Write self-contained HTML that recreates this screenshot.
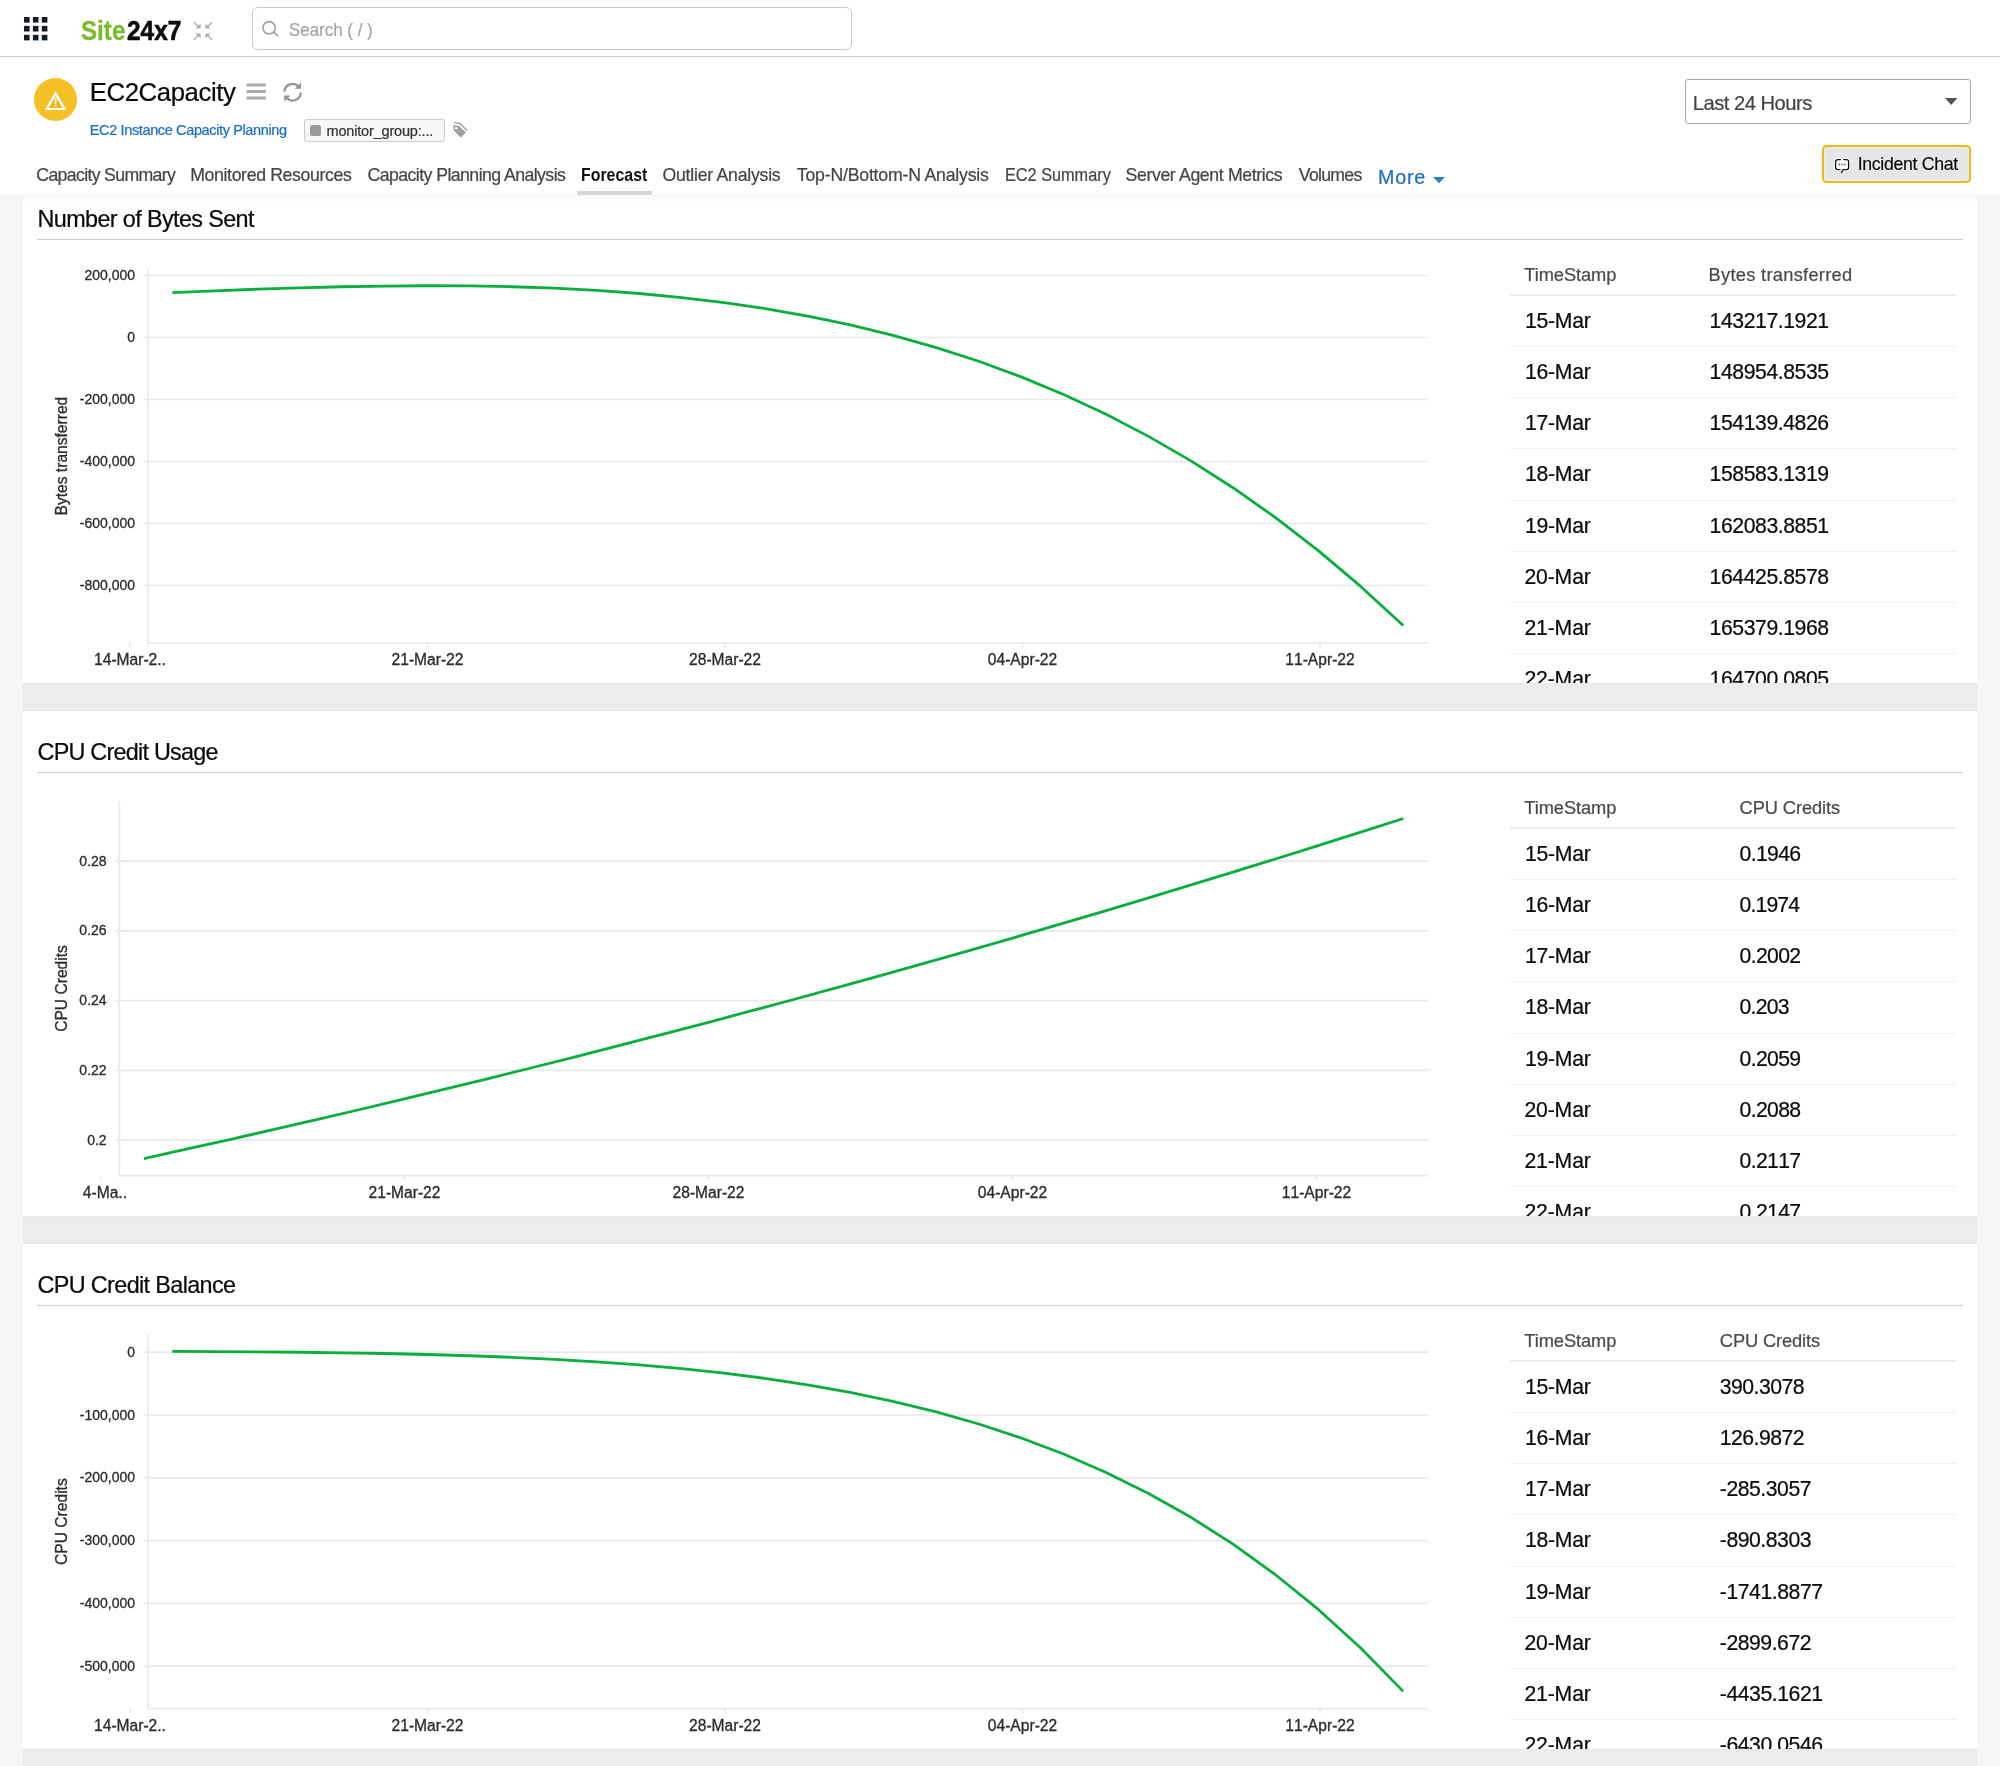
<!DOCTYPE html>
<html lang="en"><head><meta charset="utf-8"><title>EC2Capacity - Forecast</title>
<style>
html,body{margin:0;padding:0}
html{width:2000px;height:1766px;overflow:hidden}
#wrap{position:absolute;left:0;top:0;width:2000px;height:1766px;overflow:hidden;will-change:transform}
body{width:2000px;height:1766px;position:relative;overflow:hidden;background:#f6f6f6;font-family:"Liberation Sans",sans-serif}
.abs,.t,.chart,svg.i{position:absolute}
.chart text{font-kerning:none}
.t{white-space:nowrap;transform-origin:0 50%;display:block}
#hdr{left:0;top:0;width:2000px;height:194px;background:#fff}
#hline{left:0;top:56px;width:2000px;height:1px;background:#cdcdcd}
#card{left:23px;top:194px;width:1954px;height:1572px;background:#fff}
#cardshade{left:23px;top:194px;width:1954px;height:10px;background:linear-gradient(rgba(0,0,0,.028),rgba(0,0,0,0))}
.sep{left:23px;width:1954px;height:28px;background:#ececec;z-index:5;box-shadow:inset 0 0 0 1px #e9e9e9}
.ul{left:37px;width:1926px;height:1.4px;background:#cfcfcf}
.th{left:1510px;width:446px;height:2px;background:#ececec}
.tr{left:1510px;width:446px;height:1px;background:#f0f0f0}
#search{left:251.5px;top:7px;width:598px;height:41px;border:1.3px solid #c9c9c9;border-radius:6px;background:#fff;box-sizing:content-box}
#sel{left:1685px;top:79px;width:284px;height:43px;border:1.2px solid #a9a9a9;border-radius:3px;background:#fff}
#chat{left:1822px;top:145px;width:145.4px;height:33.6px;border:2px solid #f4b60e;border-radius:4.5px;background:#e6e6e6;box-shadow:inset 0 0 0 1.5px #e3ebf9}
#tagbox{left:304px;top:119px;width:139px;height:20.5px;border:1px solid #cccccc;border-radius:3px;background:#f6f6f6}
#tagsq{left:310px;top:125px;width:11px;height:11px;border-radius:2.5px;background:#999}
#circ{left:34.2px;top:78.4px;width:42.8px;height:42.8px;border-radius:50%;background:#f5c026}
#tabbar{left:577px;top:191px;width:75px;height:4px;background:#d6d6d6}
</style></head>
<body>
<div id="wrap">
<div class="abs" id="hdr"></div><div class="abs" id="card"></div><div class="abs" id="cardshade"></div><div class="abs" id="hline"></div>
<div class="abs" id="search"></div><div class="abs" id="sel"></div><div class="abs" id="chat"></div>
<div class="abs" id="tagbox"></div><div class="abs" id="tagsq"></div><div class="abs" id="circ"></div><div class="abs" id="tabbar"></div>
<div class="abs ul" style="top:238.7px"></div>
<div class="abs th" style="top:294.0px"></div>
<div class="abs tr" style="top:346px"></div>
<div class="abs tr" style="top:397px"></div>
<div class="abs tr" style="top:448px"></div>
<div class="abs tr" style="top:500px"></div>
<div class="abs tr" style="top:551px"></div>
<div class="abs tr" style="top:602px"></div>
<div class="abs tr" style="top:653px"></div>
<div class="abs tr" style="top:704px"></div>
<div class="abs sep" style="top:683px"></div>
<div class="abs ul" style="top:771.7px"></div>
<div class="abs th" style="top:827.0px"></div>
<div class="abs tr" style="top:879px"></div>
<div class="abs tr" style="top:930px"></div>
<div class="abs tr" style="top:981px"></div>
<div class="abs tr" style="top:1033px"></div>
<div class="abs tr" style="top:1084px"></div>
<div class="abs tr" style="top:1135px"></div>
<div class="abs tr" style="top:1186px"></div>
<div class="abs tr" style="top:1237px"></div>
<div class="abs sep" style="top:1216px"></div>
<div class="abs ul" style="top:1304.7px"></div>
<div class="abs th" style="top:1360.0px"></div>
<div class="abs tr" style="top:1412px"></div>
<div class="abs tr" style="top:1463px"></div>
<div class="abs tr" style="top:1514px"></div>
<div class="abs tr" style="top:1566px"></div>
<div class="abs tr" style="top:1617px"></div>
<div class="abs tr" style="top:1668px"></div>
<div class="abs tr" style="top:1719px"></div>
<div class="abs tr" style="top:1770px"></div>
<div class="abs sep" style="top:1749px"></div>
<svg class="i" style="left:24px;top:17.2px" width="24" height="24" fill="#131c26"><rect x="0.0" y="0.0" width="5.6" height="5.6"/><rect x="8.9" y="0.0" width="5.6" height="5.6"/><rect x="17.8" y="0.0" width="5.6" height="5.6"/><rect x="0.0" y="8.9" width="5.6" height="5.6"/><rect x="8.9" y="8.9" width="5.6" height="5.6"/><rect x="17.8" y="8.9" width="5.6" height="5.6"/><rect x="0.0" y="17.8" width="5.6" height="5.6"/><rect x="8.9" y="17.8" width="5.6" height="5.6"/><rect x="17.8" y="17.8" width="5.6" height="5.6"/></svg>
<svg class="i" style="left:193px;top:21px" width="20" height="20" viewBox="0 0 20 20" fill="#b0b0b0" stroke="#b0b0b0" stroke-width="1.5">
<path d="M1 1.2L5.5 5.7M19 1.2L14.5 5.7M1 18.8L5.5 14.3M19 18.8L14.5 14.3" fill="none"/>
<path d="M7.6 2.4V7.6H2.4ZM12.4 2.4V7.6H17.6ZM7.6 17.6V12.4H2.4ZM12.4 17.6V12.4H17.6Z" stroke="none"/></svg>
<svg class="i" style="left:260px;top:19px" width="20" height="20" viewBox="0 0 20 20" fill="none" stroke="#a2a2a2" stroke-width="1.7" stroke-linecap="round">
<circle cx="9.1" cy="8.8" r="6.15"/><path d="M13.7 13.4L17.6 16.6"/></svg>
<svg class="i" style="left:44px;top:89.4px" width="24" height="24" viewBox="0 0 24 24">
<path d="M11.6 6.4L18.6 19H4.6Z" fill="#f4b50d"/>
<path d="M11.6 2.1L22.3 21.1H0.9Z M11.55 6.9L4.7 18.9H18.3Z" fill="#fff" fill-rule="evenodd"/>
<path d="M10.6 9.3H12.6L12.3 15.3H10.9Z M10.75 15.9H12.45V17.5H10.75Z" fill="#fff"/></svg>
<svg class="i" style="left:246px;top:83.1px" width="21" height="18" fill="#ababab"><rect x=".5" y=".4" width="19.4" height="3" rx=".6"/><rect x=".5" y="6.9" width="19.4" height="3.1" rx=".6"/><rect x=".5" y="13.4" width="19.4" height="3.1" rx=".6"/></svg>
<svg class="i" style="left:282px;top:81px" width="22" height="22" viewBox="0 0 22 22" fill="none" stroke="#949494" stroke-width="2.2">
<path d="M2.4 10.7A8.2 8.2 0 0 1 16.9 5.9M18.8 11.5A8.2 8.2 0 0 1 4.3 16.5"/>
<path d="M19 1.6V7.8H12.8Z M2.2 20.7V14.6H8.4Z" fill="#949494" stroke="none"/></svg>
<svg class="i" style="left:452px;top:121px" width="16" height="18" viewBox="0 0 16 18">
<path d="M1.1 3.9L7 4.9 13.9 11.6 8.7 16.5 2 9.7Z M4.3 5.9a1.35 1.35 0 1 0 .01 0Z" fill="#a0a0a0" fill-rule="evenodd"/>
<path d="M2.4 1.6L8.1 2.6 14.7 9.2" fill="none" stroke="#999999" stroke-width="1.3" stroke-linecap="round"/></svg>
<svg class="i" style="left:1944.5px;top:98px" width="13" height="8"><path d="M0 0H12.4L6.2 7Z" fill="#555"/></svg>
<svg class="i" style="left:1432.5px;top:176.8px" width="13" height="7"><path d="M0 0H12L6 6.2Z" fill="#2f7ecf"/></svg>
<svg class="i" style="left:1830px;top:155px" width="24" height="22" viewBox="0 0 24 22" fill="none" stroke-linecap="round" stroke-linejoin="round">
<rect x="5.6" y="4.6" width="13" height="10" rx="2" fill="#fff" stroke="none"/>
<g stroke="#fff" stroke-width="3.4" opacity=".9"><path d="M10.4 4.6H7.6A2 2 0 0 0 5.6 6.6V12.6A2 2 0 0 0 7.6 14.6H10"/><path d="M13.6 4.6H16.6A2 2 0 0 1 18.6 6.6V12.6A2 2 0 0 1 16.6 14.6H13.2L11.4 17.6"/></g>
<g stroke="#111" stroke-width="1.3"><path d="M10.4 4.6H7.6A2 2 0 0 0 5.6 6.6V12.6A2 2 0 0 0 7.6 14.6H10"/><path d="M13.6 4.6H16.6A2 2 0 0 1 18.6 6.6V12.6A2 2 0 0 1 16.6 14.6H13.2L11.4 17.6"/></g>
<path d="M8.6 9.6h1.2M11.4 9.6h1.2M14.3 9.6h1.2" stroke="#333" stroke-width="1.5" stroke-linecap="butt"/></svg>

<svg class="chart" style="top:0px" width="1500" height="700" viewBox="0 0 1500 700">
<g stroke="#e9e9e9" stroke-width="1.7" fill="none">
<path d="M143.3 275.50H1428.5"/>
<path d="M143.3 337.50H1428.5"/>
<path d="M143.3 399.50H1428.5"/>
<path d="M143.3 461.50H1428.5"/>
<path d="M143.3 523.50H1428.5"/>
<path d="M143.3 585.50H1428.5"/>
<path d="M148.0 269.0V643.1H1428.5"/>
<path d="M130.0 643.1v4.5"/>
<path d="M427.5 643.1v4.5"/>
<path d="M725.0 643.1v4.5"/>
<path d="M1022.5 643.1v4.5"/>
<path d="M1320.0 643.1v4.5"/>
</g>
<g fill="#2b2b2b" stroke="#2b2b2b" stroke-width="0.3" font-size="14" text-anchor="end">
<text x="135" y="280.00">200,000</text>
<text x="135" y="342.00">0</text>
<text x="135" y="404.00">-200,000</text>
<text x="135" y="466.00">-400,000</text>
<text x="135" y="528.00">-600,000</text>
<text x="135" y="590.00">-800,000</text>
</g>
<g fill="#2b2b2b" stroke="#2b2b2b" stroke-width="0.3" font-size="15.6" text-anchor="middle">
<text x="130.0" y="665.0">14-Mar-2..</text>
<text x="427.5" y="665.0">21-Mar-22</text>
<text x="725.0" y="665.0">28-Mar-22</text>
<text x="1022.5" y="665.0">04-Apr-22</text>
<text x="1320.0" y="665.0">11-Apr-22</text>
<text transform="translate(67.3 456.1) rotate(-90)">Bytes transferred</text>
</g>
<polyline points="172.4,292.60 214.8,290.82 257.3,289.22 299.7,287.84 342.2,286.75 384.6,286.03 427.0,285.73 469.5,285.94 511.9,286.74 554.4,288.21 596.8,290.43 639.2,293.51 681.7,297.53 724.1,302.60 766.6,308.83 809.0,316.33 851.4,325.20 893.9,335.57 936.3,347.56 978.8,361.29 1021.2,376.91 1063.6,394.53 1106.1,414.30 1148.5,436.37 1191.0,460.88 1233.4,487.98 1275.8,517.83 1318.3,550.58 1360.7,586.41 1403.2,625.47" fill="none" stroke="#0aae3e" stroke-width="2.8" stroke-linejoin="round"/>
</svg>
<svg class="chart" style="top:533px" width="1500" height="700" viewBox="0 0 1500 700">
<g stroke="#e9e9e9" stroke-width="1.7" fill="none">
<path d="M114.7 328.20H1428.5"/>
<path d="M114.7 397.95H1428.5"/>
<path d="M114.7 467.70H1428.5"/>
<path d="M114.7 537.45H1428.5"/>
<path d="M114.7 607.20H1428.5"/>
<path d="M119.4 268.3V642.7H1428.5"/>
<path d="M100.5 642.7v4.5"/>
<path d="M404.5 642.7v4.5"/>
<path d="M708.5 642.7v4.5"/>
<path d="M1012.5 642.7v4.5"/>
<path d="M1316.5 642.7v4.5"/>
</g>
<g fill="#2b2b2b" stroke="#2b2b2b" stroke-width="0.3" font-size="14" text-anchor="end">
<text x="106.6" y="332.70">0.28</text>
<text x="106.6" y="402.45">0.26</text>
<text x="106.6" y="472.20">0.24</text>
<text x="106.6" y="541.95">0.22</text>
<text x="106.6" y="611.70">0.2</text>
</g>
<g fill="#2b2b2b" stroke="#2b2b2b" stroke-width="0.3" font-size="15.6" text-anchor="middle">
<text x="104.9" y="664.6">4-Ma..</text>
<text x="404.5" y="664.6">21-Mar-22</text>
<text x="708.5" y="664.6">28-Mar-22</text>
<text x="1012.5" y="664.6">04-Apr-22</text>
<text x="1316.5" y="664.6">11-Apr-22</text>
<text transform="translate(67.3 455.5) rotate(-90)">CPU Credits</text>
</g>
<polyline points="143.9,625.53 187.4,615.99 230.8,606.28 274.2,596.42 317.6,586.41 361.1,576.24 404.5,565.91 447.9,555.43 491.4,544.80 534.8,534.01 578.2,523.06 621.6,511.95 665.1,500.70 708.5,489.28 751.9,477.71 795.4,465.99 838.8,454.11 882.2,442.07 925.6,429.88 969.1,417.53 1012.5,405.03 1055.9,392.37 1099.4,379.55 1142.8,366.58 1186.2,353.46 1229.6,340.18 1273.1,326.74 1316.5,313.15 1359.9,299.40 1403.4,285.50" fill="none" stroke="#0aae3e" stroke-width="2.8" stroke-linejoin="round"/>
</svg>
<svg class="chart" style="top:1066px" width="1500" height="700" viewBox="0 0 1500 700">
<g stroke="#e9e9e9" stroke-width="1.7" fill="none">
<path d="M143.3 286.20H1428.5"/>
<path d="M143.3 349.00H1428.5"/>
<path d="M143.3 411.80H1428.5"/>
<path d="M143.3 474.60H1428.5"/>
<path d="M143.3 537.40H1428.5"/>
<path d="M143.3 600.20H1428.5"/>
<path d="M148.0 268.6V642.6H1428.5"/>
<path d="M130.0 642.6v4.5"/>
<path d="M427.5 642.6v4.5"/>
<path d="M725.0 642.6v4.5"/>
<path d="M1022.5 642.6v4.5"/>
<path d="M1320.0 642.6v4.5"/>
</g>
<g fill="#2b2b2b" stroke="#2b2b2b" stroke-width="0.3" font-size="14" text-anchor="end">
<text x="135" y="290.70">0</text>
<text x="135" y="353.50">-100,000</text>
<text x="135" y="416.30">-200,000</text>
<text x="135" y="479.10">-300,000</text>
<text x="135" y="541.90">-400,000</text>
<text x="135" y="604.70">-500,000</text>
</g>
<g fill="#2b2b2b" stroke="#2b2b2b" stroke-width="0.3" font-size="15.6" text-anchor="middle">
<text x="130.0" y="664.5">14-Mar-2..</text>
<text x="427.5" y="664.5">21-Mar-22</text>
<text x="725.0" y="664.5">28-Mar-22</text>
<text x="1022.5" y="664.5">04-Apr-22</text>
<text x="1320.0" y="664.5">11-Apr-22</text>
<text transform="translate(67.3 455.6) rotate(-90)">CPU Credits</text>
</g>
<polyline points="172.4,285.45 214.8,285.62 257.3,285.88 299.7,286.26 342.2,286.79 384.6,287.52 427.0,288.49 469.5,289.74 511.9,291.34 554.4,293.35 596.8,295.85 639.2,298.93 681.7,302.68 724.1,307.19 766.6,312.60 809.0,319.03 851.4,326.62 893.9,335.53 936.3,345.94 978.8,358.01 1021.2,371.97 1063.6,388.03 1106.1,406.44 1148.5,427.44 1191.0,451.33 1233.4,478.41 1275.8,508.99 1318.3,543.43 1360.7,582.09 1403.2,625.39" fill="none" stroke="#0aae3e" stroke-width="2.8" stroke-linejoin="round"/>
</svg>
<span class="t" style="left:81.30px;top:14.22px;font-size:27px;line-height:35px;color:#7abc2c;font-weight:700;transform:scaleX(0.8949);-webkit-text-stroke:0.35px #7abc2c;">Site</span>
<span class="t" style="left:127.00px;top:14.22px;font-size:27px;line-height:35px;color:#0c0c0c;font-weight:700;transform:scaleX(0.9043);-webkit-text-stroke:0.6px #0c0c0c;">24x7</span>
<span class="t" style="left:289.10px;top:17.52px;font-size:18.4px;line-height:24px;color:#a4a4a4;transform:scaleX(0.9206);-webkit-text-stroke:0.22px #a4a4a4;">Search ( / )</span>
<span class="t" style="left:89.80px;top:76.02px;font-size:25.7px;line-height:33px;color:#0a0a0a;letter-spacing:-0.387px;-webkit-text-stroke:0.22px #0a0a0a;">EC2Capacity</span>
<span class="t" style="left:89.80px;top:121.01px;font-size:14.5px;line-height:19px;color:#1b6ec2;letter-spacing:-0.369px;-webkit-text-stroke:0.22px #1b6ec2;">EC2 Instance Capacity Planning</span>
<span class="t" style="left:326.50px;top:121.60px;font-size:14.5px;line-height:19px;color:#333333;letter-spacing:-0.174px;-webkit-text-stroke:0.22px #333333;">monitor_group:...</span>
<span class="t" style="left:1692.70px;top:90.00px;font-size:20.2px;line-height:26px;color:#444444;letter-spacing:-0.507px;-webkit-text-stroke:0.22px #444444;">Last 24 Hours</span>
<span class="t" style="left:1857.70px;top:153.01px;font-size:17.7px;line-height:23px;color:#0a0a0a;letter-spacing:-0.309px;-webkit-text-stroke:0.22px #0a0a0a;text-shadow:0 0 2px #fff,0 0 1px #fff;">Incident Chat</span>
<span class="t" style="left:36.30px;top:164.01px;font-size:17.7px;line-height:23px;color:#454545;letter-spacing:-0.657px;-webkit-text-stroke:0.22px #454545;">Capacity Summary</span>
<span class="t" style="left:190.20px;top:164.01px;font-size:17.7px;line-height:23px;color:#454545;letter-spacing:-0.359px;-webkit-text-stroke:0.22px #454545;">Monitored Resources</span>
<span class="t" style="left:367.50px;top:164.01px;font-size:17.7px;line-height:23px;color:#454545;letter-spacing:-0.560px;-webkit-text-stroke:0.22px #454545;">Capacity Planning Analysis</span>
<span class="t" style="left:662.50px;top:164.01px;font-size:17.7px;line-height:23px;color:#454545;letter-spacing:-0.248px;-webkit-text-stroke:0.22px #454545;">Outlier Analysis</span>
<span class="t" style="left:796.80px;top:164.01px;font-size:17.7px;line-height:23px;color:#454545;letter-spacing:-0.206px;-webkit-text-stroke:0.22px #454545;">Top-N/Bottom-N Analysis</span>
<span class="t" style="left:1004.58px;top:164.01px;font-size:17.7px;line-height:23px;color:#454545;transform:scaleX(0.9198);-webkit-text-stroke:0.22px #454545;">EC2 Summary</span>
<span class="t" style="left:1125.50px;top:164.01px;font-size:17.7px;line-height:23px;color:#454545;letter-spacing:-0.368px;-webkit-text-stroke:0.22px #454545;">Server Agent Metrics</span>
<span class="t" style="left:1298.80px;top:164.01px;font-size:17.7px;line-height:23px;color:#454545;letter-spacing:-0.733px;-webkit-text-stroke:0.22px #454545;">Volumes</span>
<span class="t" style="left:581.10px;top:164.01px;font-size:17.7px;line-height:23px;color:#111111;font-weight:700;transform:scaleX(0.8992);">Forecast</span>
<span class="t" style="left:1378.00px;top:164.02px;font-size:19.7px;line-height:26px;color:#1b6ec2;letter-spacing:0.765px;-webkit-text-stroke:0.22px #1b6ec2;">More</span>
<span class="t" style="left:37.50px;top:204.02px;font-size:23.4px;line-height:30px;color:#0a0a0a;letter-spacing:-0.622px;-webkit-text-stroke:0.22px #0a0a0a;">Number of Bytes Sent</span>
<span class="t" style="left:1524.30px;top:263.00px;font-size:18.3px;line-height:24px;color:#4a4a4a;letter-spacing:-0.089px;-webkit-text-stroke:0.22px #4a4a4a;">TimeStamp</span>
<span class="t" style="left:1708.60px;top:263.00px;font-size:18.3px;line-height:24px;color:#4a4a4a;letter-spacing:0.273px;-webkit-text-stroke:0.22px #4a4a4a;">Bytes transferred</span>
<span class="t" style="left:1525.00px;top:307.01px;font-size:21.2px;line-height:28px;color:#0a0a0a;letter-spacing:-0.251px;-webkit-text-stroke:0.22px #0a0a0a;font-kerning:none;">15-Mar</span>
<span class="t" style="left:1709.60px;top:307.01px;font-size:21.2px;line-height:28px;color:#0a0a0a;letter-spacing:-0.424px;-webkit-text-stroke:0.22px #0a0a0a;font-kerning:none;">143217.1921</span>
<span class="t" style="left:1525.00px;top:358.16px;font-size:21.2px;line-height:28px;color:#0a0a0a;letter-spacing:-0.251px;-webkit-text-stroke:0.22px #0a0a0a;font-kerning:none;">16-Mar</span>
<span class="t" style="left:1709.60px;top:358.16px;font-size:21.2px;line-height:28px;color:#0a0a0a;letter-spacing:-0.424px;-webkit-text-stroke:0.22px #0a0a0a;font-kerning:none;">148954.8535</span>
<span class="t" style="left:1525.00px;top:409.32px;font-size:21.2px;line-height:28px;color:#0a0a0a;letter-spacing:-0.251px;-webkit-text-stroke:0.22px #0a0a0a;font-kerning:none;">17-Mar</span>
<span class="t" style="left:1709.60px;top:409.32px;font-size:21.2px;line-height:28px;color:#0a0a0a;letter-spacing:-0.424px;-webkit-text-stroke:0.22px #0a0a0a;font-kerning:none;">154139.4826</span>
<span class="t" style="left:1525.00px;top:460.46px;font-size:21.2px;line-height:28px;color:#0a0a0a;letter-spacing:-0.251px;-webkit-text-stroke:0.22px #0a0a0a;font-kerning:none;">18-Mar</span>
<span class="t" style="left:1709.60px;top:460.46px;font-size:21.2px;line-height:28px;color:#0a0a0a;letter-spacing:-0.424px;-webkit-text-stroke:0.22px #0a0a0a;font-kerning:none;">158583.1319</span>
<span class="t" style="left:1525.00px;top:511.60px;font-size:21.2px;line-height:28px;color:#0a0a0a;letter-spacing:-0.251px;-webkit-text-stroke:0.22px #0a0a0a;font-kerning:none;">19-Mar</span>
<span class="t" style="left:1709.60px;top:511.60px;font-size:21.2px;line-height:28px;color:#0a0a0a;letter-spacing:-0.424px;-webkit-text-stroke:0.22px #0a0a0a;font-kerning:none;">162083.8851</span>
<span class="t" style="left:1524.40px;top:562.76px;font-size:21.2px;line-height:28px;color:#0a0a0a;letter-spacing:-0.131px;-webkit-text-stroke:0.22px #0a0a0a;font-kerning:none;">20-Mar</span>
<span class="t" style="left:1709.60px;top:562.76px;font-size:21.2px;line-height:28px;color:#0a0a0a;letter-spacing:-0.424px;-webkit-text-stroke:0.22px #0a0a0a;font-kerning:none;">164425.8578</span>
<span class="t" style="left:1524.40px;top:613.91px;font-size:21.2px;line-height:28px;color:#0a0a0a;letter-spacing:-0.131px;-webkit-text-stroke:0.22px #0a0a0a;font-kerning:none;">21-Mar</span>
<span class="t" style="left:1709.60px;top:613.91px;font-size:21.2px;line-height:28px;color:#0a0a0a;letter-spacing:-0.424px;-webkit-text-stroke:0.22px #0a0a0a;font-kerning:none;">165379.1968</span>
<span class="t" style="left:1524.40px;top:665.07px;font-size:21.2px;line-height:28px;color:#0a0a0a;letter-spacing:-0.131px;-webkit-text-stroke:0.22px #0a0a0a;font-kerning:none;">22-Mar</span>
<span class="t" style="left:1709.60px;top:665.07px;font-size:21.2px;line-height:28px;color:#0a0a0a;letter-spacing:-0.424px;-webkit-text-stroke:0.22px #0a0a0a;font-kerning:none;">164700.0805</span>
<span class="t" style="left:37.50px;top:737.02px;font-size:23.4px;line-height:30px;color:#0a0a0a;letter-spacing:-0.759px;-webkit-text-stroke:0.22px #0a0a0a;">CPU Credit Usage</span>
<span class="t" style="left:1524.30px;top:796.00px;font-size:18.3px;line-height:24px;color:#4a4a4a;letter-spacing:-0.089px;-webkit-text-stroke:0.22px #4a4a4a;">TimeStamp</span>
<span class="t" style="left:1739.60px;top:796.00px;font-size:18.3px;line-height:24px;color:#4a4a4a;letter-spacing:-0.104px;-webkit-text-stroke:0.22px #4a4a4a;">CPU Credits</span>
<span class="t" style="left:1525.00px;top:840.01px;font-size:21.2px;line-height:28px;color:#0a0a0a;letter-spacing:-0.251px;-webkit-text-stroke:0.22px #0a0a0a;font-kerning:none;">15-Mar</span>
<span class="t" style="left:1739.60px;top:840.01px;font-size:21.2px;line-height:28px;color:#0a0a0a;letter-spacing:-0.664px;-webkit-text-stroke:0.22px #0a0a0a;font-kerning:none;">0.1946</span>
<span class="t" style="left:1525.00px;top:891.16px;font-size:21.2px;line-height:28px;color:#0a0a0a;letter-spacing:-0.251px;-webkit-text-stroke:0.22px #0a0a0a;font-kerning:none;">16-Mar</span>
<span class="t" style="left:1739.60px;top:891.16px;font-size:21.2px;line-height:28px;color:#0a0a0a;letter-spacing:-0.864px;-webkit-text-stroke:0.22px #0a0a0a;font-kerning:none;">0.1974</span>
<span class="t" style="left:1525.00px;top:942.32px;font-size:21.2px;line-height:28px;color:#0a0a0a;letter-spacing:-0.251px;-webkit-text-stroke:0.22px #0a0a0a;font-kerning:none;">17-Mar</span>
<span class="t" style="left:1739.60px;top:942.32px;font-size:21.2px;line-height:28px;color:#0a0a0a;letter-spacing:-0.664px;-webkit-text-stroke:0.22px #0a0a0a;font-kerning:none;">0.2002</span>
<span class="t" style="left:1525.00px;top:993.46px;font-size:21.2px;line-height:28px;color:#0a0a0a;letter-spacing:-0.251px;-webkit-text-stroke:0.22px #0a0a0a;font-kerning:none;">18-Mar</span>
<span class="t" style="left:1739.60px;top:993.46px;font-size:21.2px;line-height:28px;color:#0a0a0a;letter-spacing:-0.784px;-webkit-text-stroke:0.22px #0a0a0a;font-kerning:none;">0.203</span>
<span class="t" style="left:1525.00px;top:1044.60px;font-size:21.2px;line-height:28px;color:#0a0a0a;letter-spacing:-0.251px;-webkit-text-stroke:0.22px #0a0a0a;font-kerning:none;">19-Mar</span>
<span class="t" style="left:1739.60px;top:1044.60px;font-size:21.2px;line-height:28px;color:#0a0a0a;letter-spacing:-0.664px;-webkit-text-stroke:0.22px #0a0a0a;font-kerning:none;">0.2059</span>
<span class="t" style="left:1524.40px;top:1095.76px;font-size:21.2px;line-height:28px;color:#0a0a0a;letter-spacing:-0.131px;-webkit-text-stroke:0.22px #0a0a0a;font-kerning:none;">20-Mar</span>
<span class="t" style="left:1739.60px;top:1095.76px;font-size:21.2px;line-height:28px;color:#0a0a0a;letter-spacing:-0.664px;-webkit-text-stroke:0.22px #0a0a0a;font-kerning:none;">0.2088</span>
<span class="t" style="left:1524.40px;top:1146.91px;font-size:21.2px;line-height:28px;color:#0a0a0a;letter-spacing:-0.131px;-webkit-text-stroke:0.22px #0a0a0a;font-kerning:none;">21-Mar</span>
<span class="t" style="left:1739.60px;top:1146.91px;font-size:21.2px;line-height:28px;color:#0a0a0a;letter-spacing:-0.664px;-webkit-text-stroke:0.22px #0a0a0a;font-kerning:none;">0.2117</span>
<span class="t" style="left:1524.40px;top:1198.07px;font-size:21.2px;line-height:28px;color:#0a0a0a;letter-spacing:-0.131px;-webkit-text-stroke:0.22px #0a0a0a;font-kerning:none;">22-Mar</span>
<span class="t" style="left:1739.60px;top:1198.07px;font-size:21.2px;line-height:28px;color:#0a0a0a;letter-spacing:-0.664px;-webkit-text-stroke:0.22px #0a0a0a;font-kerning:none;">0.2147</span>
<span class="t" style="left:37.50px;top:1270.02px;font-size:23.4px;line-height:30px;color:#0a0a0a;letter-spacing:-0.635px;-webkit-text-stroke:0.22px #0a0a0a;">CPU Credit Balance</span>
<span class="t" style="left:1524.30px;top:1329.00px;font-size:18.3px;line-height:24px;color:#4a4a4a;letter-spacing:-0.089px;-webkit-text-stroke:0.22px #4a4a4a;">TimeStamp</span>
<span class="t" style="left:1719.80px;top:1329.00px;font-size:18.3px;line-height:24px;color:#4a4a4a;letter-spacing:-0.124px;-webkit-text-stroke:0.22px #4a4a4a;">CPU Credits</span>
<span class="t" style="left:1525.00px;top:1373.01px;font-size:21.2px;line-height:28px;color:#0a0a0a;letter-spacing:-0.251px;-webkit-text-stroke:0.22px #0a0a0a;font-kerning:none;">15-Mar</span>
<span class="t" style="left:1719.80px;top:1373.01px;font-size:21.2px;line-height:28px;color:#0a0a0a;letter-spacing:-0.527px;-webkit-text-stroke:0.22px #0a0a0a;font-kerning:none;">390.3078</span>
<span class="t" style="left:1525.00px;top:1424.16px;font-size:21.2px;line-height:28px;color:#0a0a0a;letter-spacing:-0.251px;-webkit-text-stroke:0.22px #0a0a0a;font-kerning:none;">16-Mar</span>
<span class="t" style="left:1719.80px;top:1424.16px;font-size:21.2px;line-height:28px;color:#0a0a0a;letter-spacing:-0.527px;-webkit-text-stroke:0.22px #0a0a0a;font-kerning:none;">126.9872</span>
<span class="t" style="left:1525.00px;top:1475.32px;font-size:21.2px;line-height:28px;color:#0a0a0a;letter-spacing:-0.251px;-webkit-text-stroke:0.22px #0a0a0a;font-kerning:none;">17-Mar</span>
<span class="t" style="left:1719.80px;top:1475.32px;font-size:21.2px;line-height:28px;color:#0a0a0a;letter-spacing:-0.468px;-webkit-text-stroke:0.22px #0a0a0a;font-kerning:none;">-285.3057</span>
<span class="t" style="left:1525.00px;top:1526.46px;font-size:21.2px;line-height:28px;color:#0a0a0a;letter-spacing:-0.251px;-webkit-text-stroke:0.22px #0a0a0a;font-kerning:none;">18-Mar</span>
<span class="t" style="left:1719.80px;top:1526.46px;font-size:21.2px;line-height:28px;color:#0a0a0a;letter-spacing:-0.468px;-webkit-text-stroke:0.22px #0a0a0a;font-kerning:none;">-890.8303</span>
<span class="t" style="left:1525.00px;top:1577.60px;font-size:21.2px;line-height:28px;color:#0a0a0a;letter-spacing:-0.251px;-webkit-text-stroke:0.22px #0a0a0a;font-kerning:none;">19-Mar</span>
<span class="t" style="left:1719.80px;top:1577.60px;font-size:21.2px;line-height:28px;color:#0a0a0a;letter-spacing:-0.436px;-webkit-text-stroke:0.22px #0a0a0a;font-kerning:none;">-1741.8877</span>
<span class="t" style="left:1524.40px;top:1628.76px;font-size:21.2px;line-height:28px;color:#0a0a0a;letter-spacing:-0.131px;-webkit-text-stroke:0.22px #0a0a0a;font-kerning:none;">20-Mar</span>
<span class="t" style="left:1719.80px;top:1628.76px;font-size:21.2px;line-height:28px;color:#0a0a0a;letter-spacing:-0.468px;-webkit-text-stroke:0.22px #0a0a0a;font-kerning:none;">-2899.672</span>
<span class="t" style="left:1524.40px;top:1679.91px;font-size:21.2px;line-height:28px;color:#0a0a0a;letter-spacing:-0.131px;-webkit-text-stroke:0.22px #0a0a0a;font-kerning:none;">21-Mar</span>
<span class="t" style="left:1719.80px;top:1679.91px;font-size:21.2px;line-height:28px;color:#0a0a0a;letter-spacing:-0.436px;-webkit-text-stroke:0.22px #0a0a0a;font-kerning:none;">-4435.1621</span>
<span class="t" style="left:1524.40px;top:1731.07px;font-size:21.2px;line-height:28px;color:#0a0a0a;letter-spacing:-0.131px;-webkit-text-stroke:0.22px #0a0a0a;font-kerning:none;">22-Mar</span>
<span class="t" style="left:1719.80px;top:1731.07px;font-size:21.2px;line-height:28px;color:#0a0a0a;letter-spacing:-0.436px;-webkit-text-stroke:0.22px #0a0a0a;font-kerning:none;">-6430.0546</span>
</div>
</body></html>
